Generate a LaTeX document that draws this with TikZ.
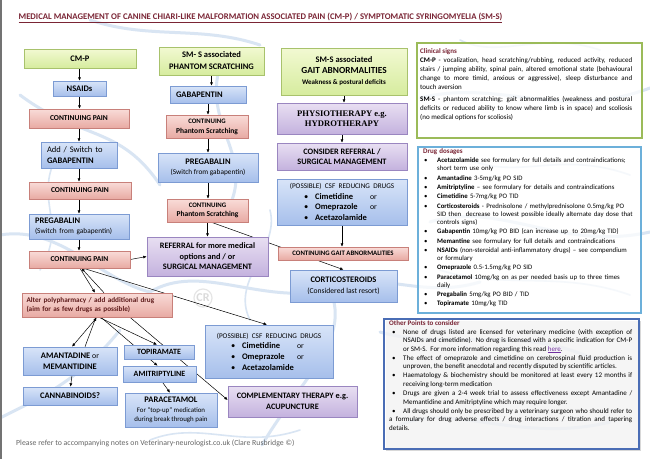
\documentclass[tikz,border=0pt]{standalone}
\usepackage{fontspec}
\setmainfont{Carlito}
\newfontfamily\serifbf{Liberation Serif}
\usetikzlibrary{arrows.meta,shadows,calc,backgrounds}

\definecolor{titlered}{HTML}{7A2535}
\definecolor{bluetop}{HTML}{D8E4F8}
\definecolor{bluebot}{HTML}{A6BFEB}
\definecolor{blueline}{HTML}{7C9BD3}
\definecolor{pinktop}{HTML}{F9DCD8}
\definecolor{pinkbot}{HTML}{E8AAA3}
\definecolor{pinkline}{HTML}{C8807A}
\definecolor{greentop}{HTML}{F2F9D2}
\definecolor{greenbot}{HTML}{D6EC9E}
\definecolor{greenline}{HTML}{A8C26C}
\definecolor{purptop}{HTML}{E8DFF2}
\definecolor{purpbot}{HTML}{C4B2DE}
\definecolor{purpline}{HTML}{9A86C0}
\definecolor{polyred}{HTML}{5E1A1A}
\definecolor{clingreen}{HTML}{9BBB59}
\definecolor{drugblue}{HTML}{6CB0DA}
\definecolor{otherblue}{HTML}{4A6DB5}
\definecolor{linkc}{HTML}{7030A0}
\definecolor{wmblue}{HTML}{D9E5F3}

\newcommand\fsL{\fontsize{8.5}{10}\selectfont}
\newcommand\fsM{\fontsize{7.5}{8.7}\selectfont}
\newcommand\BX[7]{\node[#2, minimum width={#5-#3}, minimum height={#6-#4}] (#1) at ({(#3+#5)/2},{(#4+#6)/2}) {#7};}
\newcommand\bulrow[2]{\makebox[11pt][l]{\textbullet}\makebox[55pt][l]{\textbf{#1}}\makebox[10pt][l]{\fontsize{7.8}{9}\selectfont #2}}
\newcommand\csfcontent{{\fontsize{7.2}{9}\selectfont (POSSIBLE) CSF REDUCING DRUGS\par}%
{\fontsize{8.5}{10.6}\selectfont\bulrow{Cimetidine}{or}\par\bulrow{Omeprazole}{or}\par\bulrow{Acetazolamide}{}\par}}
\newcommand\ditem[1]{\par\noindent\hangindent=14pt\hangafter=1\hspace*{1pt}\makebox[13pt][l]{\textbullet}#1}
\newcommand\oitem[1]{\par\noindent\hangindent=14pt\hangafter=1\hspace*{3pt}\makebox[11pt][l]{\textbullet}#1}

\tikzset{
  boxbase/.style={draw, line width=0.6pt, inner sep=1pt, align=center,
    drop shadow={shadow xshift=1.3pt, shadow yshift=-1.3pt, opacity=0.3}},
  bluebox/.style={boxbase, draw=blueline, top color=bluetop, bottom color=bluebot},
  pinkbox/.style={boxbase, draw=pinkline, top color=pinktop, bottom color=pinkbot},
  greenbox/.style={boxbase, draw=greenline, top color=greentop, bottom color=greenbot},
  purpbox/.style={boxbase, draw=purpline, top color=purptop, bottom color=purpbot},
  arr/.style={-{Latex[length=3.4pt,width=3pt]}, line width=0.5pt, black},
  panel/.style={line width=1.6pt, fill=white, fill opacity=0.75, anchor=north west, inner sep=0pt},
  paneltext/.style={anchor=north west, inner sep=0pt, font=\fontsize{7}{8.5}\selectfont},
  wm/.style={wmblue, line width=3pt, line cap=round},
  wmthin/.style={wmblue, line width=1.6pt, line cap=round}
}

\begin{document}
\begin{tikzpicture}[x=1pt,y=-1pt]
\useasboundingbox (0,0) rectangle (650,459);

% title
\node[anchor=base, inner sep=0pt, font=\bfseries\fontsize{8.7}{10}\selectfont, text=titlered] (title) at (260.5,19)
 {\underline{MEDICAL MANAGEMENT OF CANINE CHIARI-LIKE MALFORMATION ASSOCIATED PAIN (CM-P) / SYMPTOMATIC SYRINGOMYELIA (SM-S)}};

% left column
\BX{cmp}{greenbox,font=\bfseries\fsL}{24}{49}{136}{68}{CM-P}
\BX{nsaids}{bluebox,font=\bfseries\fsL}{53}{81}{106}{96}{NSAIDs}
\BX{cp1}{pinkbox,font=\bfseries\fsM}{29}{109}{129}{128}{CONTINUING PAIN}
\BX{addg}{bluebox,font=\fontsize{8.5}{11}\selectfont,align=left,text width=64pt}{41}{142}{117}{168}{Add / Switch to\\\textbf{GABAPENTIN}}
\BX{cp2}{pinkbox,font=\bfseries\fsM}{29}{182}{131}{199}{CONTINUING PAIN}
\BX{preg1}{bluebox,font=\fontsize{8.5}{10}\selectfont,align=left,text width=88pt}{29}{214}{129}{239}{\textbf{PREGABALIN}\\{\fontsize{7.3}{10}\selectfont(Switch from gabapentin)}}
\BX{cp3}{pinkbox,font=\bfseries\fsM}{29}{251}{130}{268}{CONTINUING PAIN}

% middle column
\BX{smsp}{greenbox,font=\bfseries\fontsize{8.5}{12}\selectfont}{159}{47}{264}{75}{SM- S associated\\PHANTOM SCRATCHING}
\BX{gaba}{bluebox,font=\bfseries\fsL,align=left,text width=64pt}{170}{86}{246}{103}{GABAPENTIN}
\BX{ph1}{pinkbox,font=\bfseries\fontsize{7.5}{10}\selectfont}{166}{115}{248}{138}{{\fontsize{6.8}{8}\selectfont CONTINUING}\\Phantom Scratching}
\BX{preg2}{bluebox,font=\fontsize{8.5}{10.6}\selectfont}{158}{153}{258}{182}{\textbf{PREGABALIN}\\{\fontsize{7.3}{9}\selectfont(Switch from gabapentin)}}
\BX{ph2}{pinkbox,font=\bfseries\fontsize{7.5}{9}\selectfont}{167}{199}{248}{222}{{\fontsize{6.8}{8}\selectfont CONTINUING}\\Phantom Scratching}
\BX{ref}{purpbox,font=\bfseries\fontsize{8.3}{10.5}\selectfont}{147}{237}{268}{276}{REFERRAL for more medical\\options and / or\\SURGICAL MANAGEMENT}

% gait column
\BX{smsg}{greenbox,font=\bfseries\fontsize{8.5}{11}\selectfont}{281}{48}{407}{95}{SM-S associated\\{\fontsize{9.3}{11}\selectfont GAIT ABNORMALITIES}\\{\fontsize{7}{9}\selectfont Weakness \& postural deficits}}
\BX{physio}{purpbox,font=\serifbf\bfseries\fontsize{8.6}{10.3}\selectfont}{277}{103}{407}{134}{PHYSIOTHERAPY e.g.\\HYDROTHERAPY}
\BX{consider}{purpbox,font=\bfseries\fontsize{8.3}{10}\selectfont}{277}{143}{407}{170}{CONSIDER REFERRAL /\\SURGICAL MANAGEMENT}
\BX{csf1}{bluebox,text width=124pt}{277}{179}{407}{225}{\csfcontent}
\BX{gait}{pinkbox,font=\bfseries\fontsize{6.8}{7}\selectfont}{278}{247}{408}{260}{CONTINUING GAIT ABNORMALITIES}
\BX{cort}{bluebox,font=\fontsize{8.5}{10.7}\selectfont}{290}{270}{397}{302}{\textbf{CORTICOSTEROIDS}\\{\fontsize{7.6}{9}\selectfont(Considered last resort)}}

% bottom
\BX{poly}{pinkbox,font=\bfseries\fontsize{7.2}{9}\selectfont\color{polyred},align=left,text width=141pt}{22}{293}{172}{317}{Alter polypharmacy / add additional drug\\(aim for as few drugs as possible)}
\BX{aman}{bluebox,font=\bfseries\fontsize{8.5}{10.7}\selectfont}{23}{347}{117}{375}{AMANTADINE {\mdseries\fontsize{7.8}{9}\selectfont or}\\MEMANTIDINE}
\BX{cann}{bluebox,font=\bfseries\fsL}{23}{387}{117}{405}{CANNABINOIDS?}
\BX{topi}{bluebox,font=\bfseries\fontsize{8}{9}\selectfont}{124}{345}{194}{359}{TOPIRAMATE}
\BX{amit}{bluebox,font=\bfseries\fontsize{8}{9}\selectfont}{123}{366}{196}{382}{AMITRIPTYLINE}
\BX{para}{bluebox,font=\fontsize{6.9}{9.5}\selectfont}{125}{393}{217}{427}{{\bfseries\fsL PARACETAMOL}\\For “top-up” medication\\during break through pain}
\BX{csf2}{bluebox,text width=122pt}{205}{325}{333}{378}{\csfcontent}
\BX{comp}{purpbox,font=\bfseries\fontsize{8.3}{11}\selectfont}{228}{386}{357}{417}{COMPLEMENTARY THERAPY e.g.\\ACUPUNCTURE}

% right panels
\node[panel, draw=clingreen, minimum width=225, minimum height=95] (clin) at (416,42) {};
\node[paneltext, text width=212pt, align=justify, font=\fontsize{7}{9}\selectfont] (clintxt) at (420,48.6) {\hyphenpenalty=10000
\textcolor{titlered}{\textbf{Clinical signs}}\par
\textbf{CM-P} - vocalization, head scratching/rubbing, reduced activity, reduced\linebreak
stairs / jumping ability, spinal pain, altered emotional state (behavioural\linebreak
change to more timid, anxious or aggressive), sleep disturbance and\linebreak
touch aversion\par\vspace{3pt}
\textbf{SM-S} - phantom scratching; gait abnormalities (weakness and postural\linebreak
deficits or reduced ability to know where limb is in space) and scoliosis\linebreak
(no medical options for scoliosis)};

\node[panel, draw=drugblue, minimum width=223, minimum height=166] (drug) at (417,146) {};
\node[paneltext, text width=214pt, align=left, font=\fontsize{6.8}{8.2}\selectfont] (drugtxt) at (423,148.2) {\hyphenpenalty=10000\parskip=1.1pt
\textcolor{titlered}{\textbf{\fontsize{7}{8.2}\selectfont Drug dosages}}
\ditem{\textbf{Acetazolamide} see formulary for full details and contraindications;\newline short term use only}
\ditem{\textbf{Amantadine} 3-5mg/kg PO SID}
\ditem{\textbf{Amitriptyline} – see formulary for details and contraindications}
\ditem{\textbf{Cimetidine} 5-7mg/kg PO TID}
\ditem{\textbf{Corticosteroids} - Prednisolone / methylprednisolone 0.5mg/kg PO\newline SID then\ \ decrease to lowest possible ideally alternate day dose that\newline controls signs)}
\ditem{\textbf{Gabapentin} 10mg/kg PO BID (can increase up\ \ to 20mg/kg TID)}
\ditem{\textbf{Memantine} see formulary for full details and contraindications}
\ditem{\textbf{NSAIDs} (non-steroidal anti-inflammatory drugs) – see compendium\newline or formulary}
\ditem{\textbf{Omeprazole} 0.5-1.5mg/kg PO SID}
\ditem{\textbf{Paracetamol} 10mg/kg on as per needed basis up to three times\newline daily}
\ditem{\textbf{Pregabalin} 5mg/kg PO BID / TID}
\ditem{\textbf{Topiramate} 10mg/kg TID}};

\node[panel, draw=otherblue, line width=2pt, minimum width=255, minimum height=130,
  drop shadow={shadow xshift=1.5pt, shadow yshift=-1.5pt, opacity=0.3}] (other) at (383,318) {};
\node[paneltext, text width=243pt, align=justify] (othertxt) at (389,320) {\hyphenpenalty=10000\parskip=0.6pt
\textcolor{titlered}{\textbf{Other Points to consider}}
\oitem{None of drugs listed are licensed for veterinary medicine (with exception of\linebreak NSAIDs and cimetidine). No drug is licensed with a specific indication for CM-P\linebreak or SM-S.\ \ For more information regarding this read \textcolor{linkc}{\underline{here}}.}
\oitem{The effect of omeprazole and cimetidine on cerebrospinal fluid production is\linebreak unproven, the benefit anecdotal and recently disputed by scientific articles.}
\oitem{Haematology \& biochemistry should be monitored at least every 12 months if\linebreak receiving long-term medication}
\oitem{Drugs are given a 2-4 week trial to assess effectiveness except Amantadine /\linebreak Memantidine and Amitriptyline which may require longer.}
\oitem{All drugs should only be prescribed by a veterinary surgeon who should refer to\linebreak a formulary for drug adverse effects / drug interactions / titration and tapering\linebreak details.}};

% footer
\node[anchor=base west, inner sep=0pt, font=\fontsize{7.8}{9}\selectfont, text=black!60] (footer) at (16,445)
 {Please refer to accompanying notes on Veterinary-neurologist.co.uk (Clare Rusbridge ©)};

% background watermark and connectors
\begin{scope}[on background layer]
\fill[white] (0,0) rectangle (650,459);
\draw[wm] (20,95) .. controls (80,140) and (120,125) .. (160,185);
\draw[wm] (0,235) .. controls (60,225) and (100,280) .. (150,292);
\draw[wm] (150,292) .. controls (200,262) and (260,305) .. (330,290);
\draw[wm] (330,290) .. controls (380,268) and (420,300) .. (480,282);
\draw[wm] (330,290) .. controls (352,340) and (300,380) .. (262,445);
\draw[wm] (120,330) .. controls (80,380) and (40,398) .. (0,418);
\draw[wm] (222,60) .. controls (200,120) and (250,150) .. (232,200);
\draw[wm] (420,98) .. controls (500,78) and (560,122) .. (650,88);
\draw[wm] (430,222) .. controls (500,200) and (560,252) .. (650,232);
\draw[wm] (380,332) .. controls (450,352) and (520,322) .. (600,362);
\draw[wm] (400,425) .. controls (450,402) and (520,444) .. (610,422);
\draw[wm] (90,20) .. controls (150,40) and (200,25) .. (260,45);
\draw[wmthin] (60,150) .. controls (30,200) and (70,220) .. (40,270);
\draw[wmthin] (250,320) .. controls (230,280) and (280,250) .. (270,210);
\draw[wmthin] (150,440) .. controls (200,420) and (240,450) .. (300,430);
\draw[wmthin] (460,40) .. controls (500,60) and (540,30) .. (600,50);
\draw[wmthin] (470,160) .. controls (520,180) and (560,150) .. (630,175);
\draw[wmthin] (440,270) .. controls (500,290) and (560,270) .. (630,295);
\node[circle, draw=black!10, line width=1.2pt, text=black!14, inner sep=1pt,
  font=\bfseries\fontsize{12}{12}\selectfont] (crlogo) at (203,298) {CR};
\draw[line width=1.5pt, black!55] (0.75,0) -- (0.75,459);
\draw[arr] (nsaids.north |- cmp.south) -- (nsaids.north);
\draw[arr] (nsaids.south) -- (nsaids.south |- cp1.north);
\draw[arr] (cp1.south) -- (cp1.south |- addg.north);
\draw[arr] (addg.south) -- (addg.south |- cp2.north);
\draw[arr] (preg1.north |- cp2.south) -- (preg1.north);
\draw[arr] (preg1.south) -- (preg1.south |- cp3.north);
\draw[arr] (cp3.east) -- (ref.west);
\draw[arr] (smsp.south) -- (smsp.south |- gaba.north);
\draw[arr] (gaba.south) -- (gaba.south |- ph1.north);
\draw[arr] (preg2.north |- ph1.south) -- (preg2.north);
\draw[arr] (preg2.south) -- (preg2.south |- ph2.north);
\draw[arr] (ph2.south) -- (ph2.south |- ref.north);
\draw[arr] (smsg.south) -- (smsg.south |- physio.north);
\draw[arr] (physio.south) -- (physio.south |- consider.north);
\draw[arr] (csf1.south) -- (csf1.south |- gait.north);
\draw[arr] ($(ph2.south)+(4,0)$) -- (cort.north);
\draw[arr] ($(cp3.south)+(0.5,0)$) -- ($(poly.north)+(-2,0)$);
\draw[arr] ($(poly.north)+(7,0)$) -- ($(cp3.south)+(2,0)$);
\draw[arr] ($(cp3.south)+(4,0)$) -- ($(csf2.north)+(-2,0)$);
\draw[arr] (poly.south) -- ($(aman.north)+(2,0)$);
\draw[arr] ($(aman.north)+(15,0)$) -- ($(poly.south)+(-1,0)$);
\draw[arr] ($(poly.south)+(2,0)$) -- ($(topi.north)+(-2,0)$);
\draw[arr] ($(poly.south)+(4,0)$) -- ($(amit.north)+(-2,0)$);
\draw[arr] ($(poly.south)+(33,0)$) -- ($(comp.west)+(0,-1.5)$);
\draw[arr] ($(aman.south)+(2,0)$) -- ($(cann.north)+(0.5,0)$);
\draw[arr] ($(amit.south)+(3,0)$) -- ($(para.north)+(-1,0)$);
\end{scope}
\end{tikzpicture}
\end{document}
